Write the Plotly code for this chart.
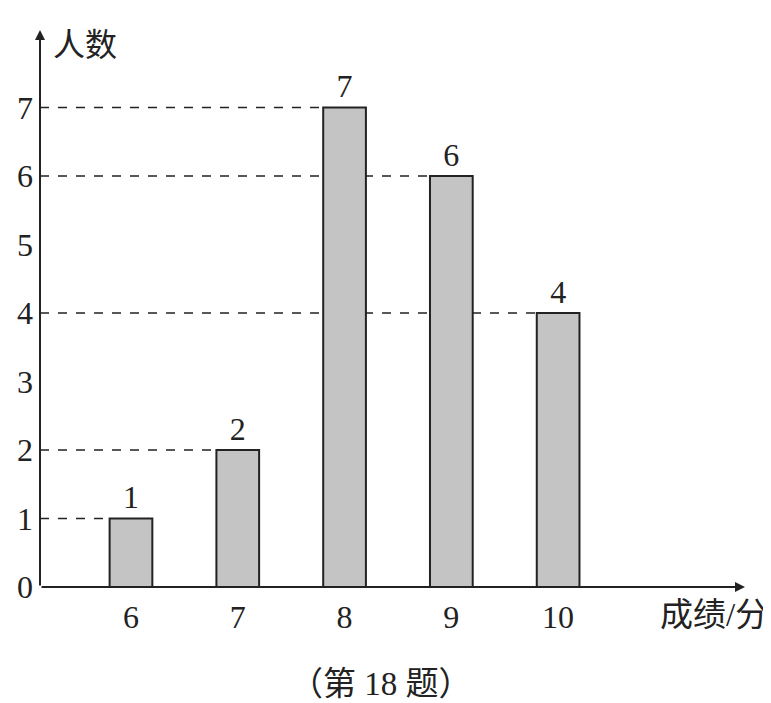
import plotly.graph_objects as go

scores = [6, 7, 8, 9, 10]
counts = [1, 2, 7, 6, 4]
y_ticks = [0, 1, 2, 3, 4, 5, 6, 7]
x_title = "成绩/分"
y_title = "人数"
caption = "（第 18 题）"

BAR_W = 0.4
X0, X1 = 5.148, 11.75
Y0, Y1 = 0, 8.13
FONT = "Liberation Serif, Noto Sans CJK SC, serif"
INK = "#222222"

# page body has an 8px default margin; size the figure so it fills the window
OFF = 8
W, H = 771 - OFF, 703 - OFF
L, R, T, B = 40 - OFF, 771 - 745, 30 - OFF, 703 - 587

fig = go.Figure()
fig.add_trace(go.Bar(
    x=scores, y=counts, width=BAR_W,
    marker=dict(color="#c4c4c4", line=dict(color=INK, width=2)),
    text=[str(c) for c in counts], textposition="outside",
    textfont=dict(family=FONT, size=32, color=INK),
    cliponaxis=False,
))

shapes = []
for s, c in zip(scores, counts):
    shapes.append(dict(type="line", xref="x", yref="y", x0=X0, x1=s - BAR_W / 2,
                       y0=c, y1=c, layer="below",
                       line=dict(color=INK, width=1.5, dash="dash")))
fig.update_layout(shapes=shapes)

annotations = [
    dict(x=X1, y=0, ax=X0, ay=0, xref="x", yref="y", axref="x", ayref="y",
         showarrow=True, arrowhead=2, arrowsize=1, arrowwidth=2, arrowcolor=INK, text=""),
    dict(x=X0, y=Y1, ax=X0, ay=0, xref="x", yref="y", axref="x", ayref="y",
         showarrow=True, arrowhead=2, arrowsize=1, arrowwidth=2, arrowcolor=INK, text=""),
    dict(x=85, y=45, text=y_title, showarrow=False,
         font=dict(family=FONT, size=32, color=INK)),
    dict(x=714, y=615, text=x_title, showarrow=False,
         font=dict(family=FONT, size=33, color=INK)),
    dict(x=381, y=684, text=caption, showarrow=False,
         font=dict(family=FONT, size=33, color=INK)),
]
pw, ph = W - L - R, H - T - B
for a in annotations[2:]:
    px, py = a["x"] - OFF, a["y"] - OFF
    a["x"] = (px - L) / pw
    a["y"] = (H - B - py) / ph
    a["xref"] = "paper"
    a["yref"] = "paper"
    a["xanchor"] = "center"
    a["yanchor"] = "middle"
fig.update_layout(annotations=annotations)

fig.update_layout(
    width=W, height=H,
    margin=dict(l=L, r=R, t=T, b=B),
    plot_bgcolor="white", paper_bgcolor="white",
    showlegend=False,
    xaxis=dict(range=[X0, X1], showgrid=False, zeroline=False, showline=False,
               automargin=False,
               tickvals=scores, ticktext=[str(s) for s in scores], ticks="",
               tickfont=dict(family=FONT, size=32, color=INK), ticklabelstandoff=8),
    yaxis=dict(range=[Y0, Y1], showgrid=False, zeroline=False, showline=False,
               automargin=False,
               tickvals=y_ticks, ticks="",
               tickfont=dict(family=FONT, size=32, color=INK), ticklabelstandoff=6),
)

fig.write_html("out.html")
